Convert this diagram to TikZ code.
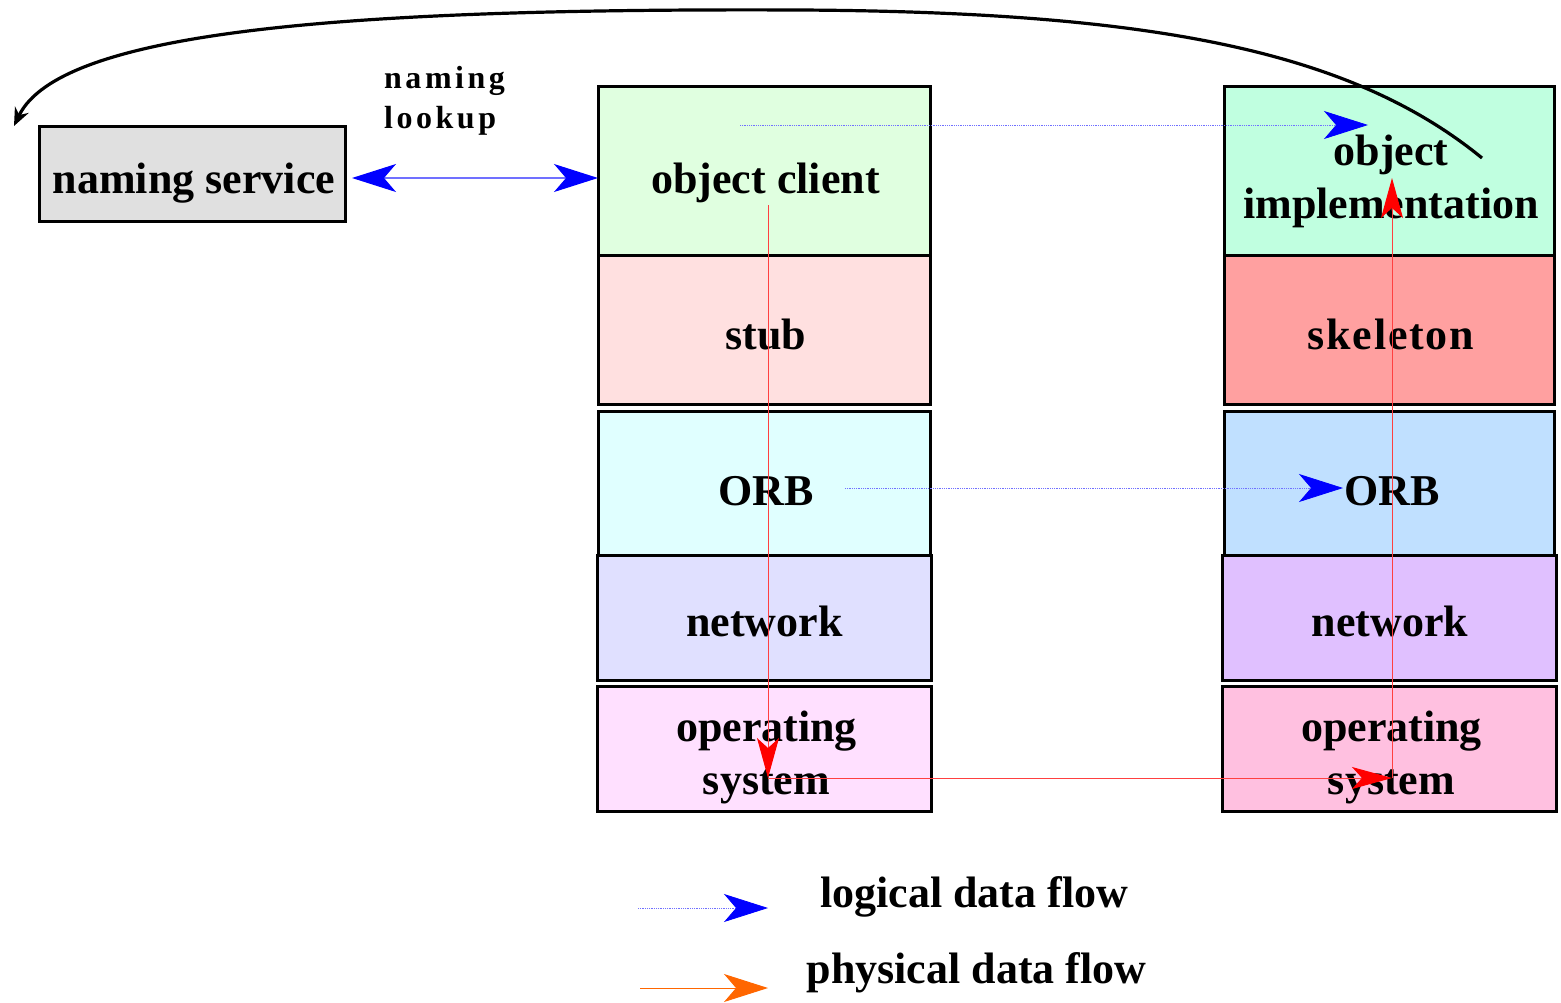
\documentclass[tikz,border=0pt]{standalone}
\usepackage{fontspec}
\setmainfont{Liberation Serif}
\usetikzlibrary{arrows.meta}
\definecolor{cns}{HTML}{E0E0E0}
\definecolor{coc}{HTML}{E0FFE0}
\definecolor{cstub}{HTML}{FFE0E0}
\definecolor{corbl}{HTML}{E0FFFF}
\definecolor{cnetl}{HTML}{E0E0FF}
\definecolor{cosl}{HTML}{FFE0FF}
\definecolor{coi}{HTML}{C0FFE0}
\definecolor{csk}{HTML}{FFA0A0}
\definecolor{corbr}{HTML}{C0E0FF}
\definecolor{cnetr}{HTML}{E0C0FF}
\definecolor{cosr}{HTML}{FFC0E0}
\definecolor{lgline}{HTML}{7070FF}
\definecolor{phline}{HTML}{FF4040}
\definecolor{orng}{HTML}{FF6600}
\tikzset{
  box/.style={draw=black, line width=3pt, inner sep=0pt},
  lbl/.style={inner sep=0pt, anchor=base, font=\bfseries\fontsize{44}{53}\selectfont},
  logical/.style={draw=lgline, line width=0.8pt, densely dotted, -{Stealth[length=44pt,width=28pt,inset=12pt,color=blue]}},
  physical/.style={draw=phline, line width=1pt, -{Stealth[length=40pt,width=22pt,inset=10pt,color=red]}},
}
\begin{document}
\begin{tikzpicture}[x=1pt,y=-1pt]
\useasboundingbox (0,0) rectangle (1561,1002);
% boxes
\node[box, fill=cns, minimum width=306pt, minimum height=95pt] (ns) at (192,173.5) {};
\node[box, fill=coc, minimum width=332pt, minimum height=169pt] (oc) at (764,170.5) {};
\node[box, fill=cstub, minimum width=332pt, minimum height=149pt] (stub) at (764,329.5) {};
\node[box, fill=corbl, minimum width=332pt, minimum height=144pt] (orbl) at (764,483) {};
\node[box, fill=cnetl, minimum width=334pt, minimum height=125pt] (netl) at (764,617.5) {};
\node[box, fill=cosl, minimum width=334pt, minimum height=125pt] (osl) at (764,748.5) {};
\node[box, fill=coi, minimum width=330pt, minimum height=169pt] (oi) at (1389,170.5) {};
\node[box, fill=csk, minimum width=330pt, minimum height=149pt] (sk) at (1389,329.5) {};
\node[box, fill=corbr, minimum width=330pt, minimum height=144pt] (orbr) at (1389,483) {};
\node[box, fill=cnetr, minimum width=334pt, minimum height=125pt] (netr) at (1389,617.5) {};
\node[box, fill=cosr, minimum width=334pt, minimum height=125pt] (osr) at (1389,748.5) {};
% box texts
\node[lbl] (tns) at (194,193) {naming service};
\node[lbl] (toc) at (765.5,193) {object client};
\node[lbl] (tstub) at (766,349) {stub};
\node[lbl] (torbl) at (766,505) {ORB};
\node[lbl] (tnetl) at (764.5,636) {network};
\node[lbl, align=center] (tosl) at (766.5,794) {operating\\system};
\node[lbl, align=center] (toi) at (1391,218) {object\\implementation};
\node[lbl, font=\bfseries\fontsize{44}{53}\selectfont\addfontfeature{LetterSpace=4}] (tsk) at (1391,349) {skeleton};
\node[lbl] (torbr) at (1392,505) {ORB};
\node[lbl] (tnetr) at (1390,636) {network};
\node[lbl, align=center] (tosr) at (1391.5,794) {operating\\system};
% naming lookup label
\node[anchor=base west, inner sep=0pt, align=left,
  font=\bfseries\fontsize{32}{40}\selectfont\addfontfeature{LetterSpace=11}] (nl) at (384,128) {naming\\lookup};
% naming lookup arrow
\coordinate (na1) at (352,178);
\coordinate (na2) at (598,178);
\draw[draw=lgline, line width=1.2pt,
  {Stealth[length=44pt,width=28pt,inset=12pt,color=blue]}-{Stealth[length=44pt,width=28pt,inset=12pt,color=blue]}]
  (na1) -- (na2);
% logical flows
\coordinate (lo1) at (740,125);
\coordinate (lo2) at (1368,125);
\draw[logical] (lo1) -- (lo2);
\coordinate (lb1) at (845,488);
\coordinate (lb2) at (1343,488);
\draw[logical] (lb1) -- (lb2);
% physical flows
\coordinate (p1) at (768,205);
\coordinate (p2) at (768,778);
\coordinate (p3) at (1392,778);
\coordinate (p4) at (1392,178);
\draw[physical] (p1) -- (p2);
\draw[physical] (p2) -- (p3);
\draw[physical] (p3) -- (p4);
% big curve
\coordinate (cs) at (1482,158);
\coordinate (ce) at (14,126);
\draw[line width=3.2pt, -{Stealth[length=18pt,width=15pt]}]
  (cs) .. controls (1350,50) and (1150,12) .. (800,10)
       .. controls (350,8) and (60,30) .. (ce);
% legend
\coordinate (g1s) at (638,908);
\coordinate (g1e) at (768,908);
\draw[logical] (g1s) -- (g1e);
\node[lbl] (lg1) at (974,907) {logical data flow};
\coordinate (g2s) at (640,988);
\coordinate (g2e) at (768,988);
\draw[draw=orng, line width=1pt, -{Stealth[length=44pt,width=28pt,inset=12pt,color=orng]}] (g2s) -- (g2e);
\node[lbl] (lg2) at (976.5,983) {physical data flow};
\end{tikzpicture}
\end{document}
